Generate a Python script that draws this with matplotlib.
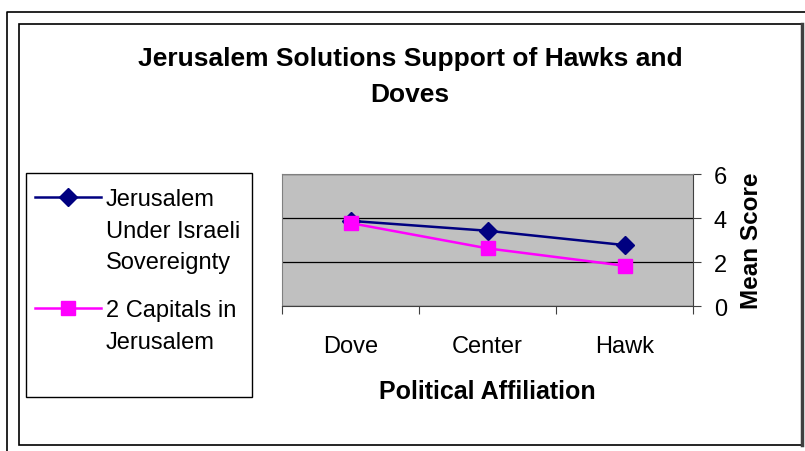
import numpy as np
import matplotlib.pyplot as plt
from matplotlib.patches import Rectangle
from matplotlib.lines import Line2D

plt.rcParams['font.family'] = ['Liberation Sans', 'DejaVu Sans']

categories = ['Dove', 'Center', 'Hawk']
israeli_sovereignty = [3.87, 3.42, 2.77]
two_capitals = [3.77, 2.62, 1.83]
series_names = ['Jerusalem\nUnder Israeli\nSovereignty', '2 Capitals in\nJerusalem']

W, H = 805, 452
fig = plt.figure(figsize=(W / 100, H / 100), dpi=100)


def fx(px):
    return px / W


def fy(py):
    return 1 - py / H


# outer frame (left + top lines) and inner chart box
fig.add_artist(Line2D([fx(7), fx(7), fx(805)], [fy(452), fy(13), fy(13)],
                      color='black', lw=1.2, transform=fig.transFigure))
fig.add_artist(Rectangle((fx(19), fy(446)), fx(802) - fx(19), fy(25) - fy(446),
                         fill=False, ec='black', lw=1.2, transform=fig.transFigure))
fig.add_artist(Line2D([fx(802), fx(802)], [fy(446), fy(25)], color='#404040',
                      lw=2.5, transform=fig.transFigure))

ax = fig.add_axes([fx(282), fy(307), fx(693) - fx(282), fy(175) - fy(307)])
ax.set_facecolor('#C0C0C0')

x = np.arange(len(categories)) + 0.5
styles = [dict(color='#000080', marker='D', ms=9),
          dict(color='#FF00FF', marker='s', ms=10)]
for vals, st in zip([israeli_sovereignty, two_capitals], styles):
    ax.plot(x, vals, lw=1.8, zorder=3, **st)

ax.set_xlim(0, len(categories))
ax.set_ylim(0, 6)
ax.set_yticks([0, 2, 4, 6])
ax.yaxis.tick_right()
ax.yaxis.set_label_position('right')
ax.grid(axis='y', color='black', lw=0.9)
ax.set_axisbelow(True)

ax.set_xticks(np.arange(len(categories) + 1))
ax.set_xticklabels([])
ax.set_xticks(x, minor=True)
ax.set_xticklabels(categories, minor=True)
ax.tick_params(axis='x', which='minor', length=0, pad=21, labelsize=17)
ax.tick_params(axis='x', which='major', length=6, direction='out', color='#404040')
ax.tick_params(axis='y', length=6, direction='out', color='#404040', labelsize=17, pad=9)

for side in ['top', 'left']:
    ax.spines[side].set_color('#808080')
for side in ['bottom', 'right']:
    ax.spines[side].set_color('#404040')

ax.set_xlabel('Political Affiliation', fontsize=18, fontweight='bold', labelpad=16)
ax.set_ylabel('Mean Score', fontsize=17.5, fontweight='bold', labelpad=9)

fig.text(fx(410), fy(77), 'Jerusalem Solutions Support of Hawks and\nDoves',
         ha='center', va='center', fontsize=19, fontweight='bold', linespacing=1.62)

# legend box, drawn by hand so each handle sits on its label's first line
fig.add_artist(Rectangle((fx(26), fy(398)), fx(252) - fx(26), fy(174) - fy(398),
                         fill=False, ec='black', lw=1.0, transform=fig.transFigure))
label_tops = [198, 309]
for name, st, ly in zip(series_names, styles, label_tops):
    fig.add_artist(Line2D([fx(35), fx(101)], [fy(ly), fy(ly)], lw=1.8,
                          transform=fig.transFigure, **st, markevery=[]))
    fig.add_artist(Line2D([fx(68)], [fy(ly)], lw=0, transform=fig.transFigure, **st))
    fig.text(fx(106), fy(ly - 9), name, ha='left', va='top', fontsize=17,
             linespacing=1.57)

fig.savefig('out.png', dpi=100)
